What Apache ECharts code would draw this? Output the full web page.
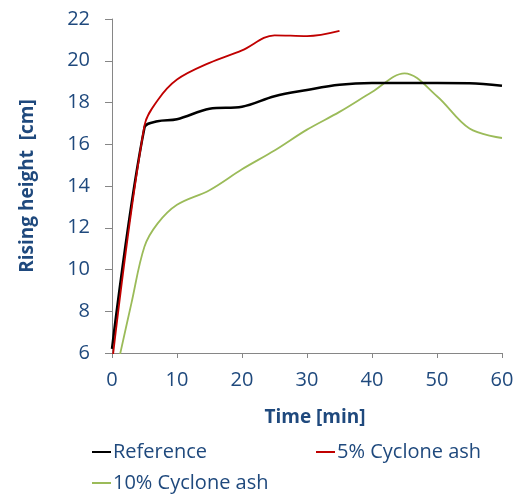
<!DOCTYPE html>
<html>
<head>
<meta charset="utf-8">
<script src="https://cdn.jsdelivr.net/npm/echarts@6/dist/echarts.min.js"></script>
<style>
  html, body { margin: 0; padding: 0; background: #fff; }
  #chart { width: 524px; height: 497px; }
</style>
</head>
<body>
<div id="chart"></div>
<script>
// [time (min), rising height (cm)]
const referenceData = [[0, 6.2], [5, 16.8], [7, 17.1], [10, 17.2], [15, 17.7], [20, 17.8], [25, 18.3], [30, 18.6], [35, 18.85], [40, 18.93], [45, 18.93], [50, 18.93], [55, 18.92], [60, 18.8]];
const ash5Data = [[0, 5.5], [5, 16.9], [7, 18.1], [10, 19.1], [15, 19.9], [20, 20.5], [25, 21.22], [30, 21.18], [35, 21.43]];
const ash10Data = [[1, 5.6], [3, 8.4], [5, 11.1], [7, 12.2], [10, 13.1], [15, 13.8], [20, 14.8], [25, 15.7], [30, 16.7], [35, 17.55], [40, 18.5], [45, 19.4], [50, 18.3], [55, 16.75], [60, 16.3]];
const seriesNames = ['Reference', '5% Cyclone ash', '10% Cyclone ash'];

const textBlue = '#1F497D';
const axisGrey = '#868686';
const font = 'Open Sans';

const chart = echarts.init(document.getElementById('chart'));

const legendBase = {
    orient: 'horizontal',
    padding: 0,
    icon: 'rect',
    itemWidth: 19,
    itemHeight: 2,
    textStyle: { color: textBlue, fontSize: 20, fontFamily: font, padding: [0, 0, 0, -3] }
};

chart.setOption({
    animation: false,
    grid: { left: 112, right: 22, top: 19, bottom: 144 },
    legend: [
        Object.assign({}, legendBase, { left: 92, top: 442, itemGap: 109, data: [seriesNames[0], seriesNames[1]] }),
        Object.assign({}, legendBase, { left: 92, top: 473, data: [seriesNames[2]] })
    ],
    xAxis: {
        type: 'value',
        min: 0,
        max: 60,
        interval: 10,
        name: 'Time [min]',
        nameLocation: 'middle',
        nameGap: 55,
        nameTextStyle: { color: textBlue, fontSize: 19, fontWeight: 'bold', fontFamily: font, padding: [0, 0, 0, 16] },
        axisLine: { lineStyle: { color: axisGrey, width: 1 } },
        axisTick: { show: true, length: 5, inside: false, lineStyle: { color: axisGrey } },
        axisLabel: { color: textBlue, fontSize: 20, fontFamily: font, margin: 17 },
        splitLine: { show: false }
    },
    yAxis: {
        type: 'value',
        min: 6,
        max: 22,
        interval: 2,
        name: 'Rising height  [cm]',
        nameLocation: 'middle',
        nameGap: 75,
        nameTextStyle: { color: textBlue, fontSize: 19, fontWeight: 'bold', fontFamily: font },
        axisLine: { show: true, lineStyle: { color: axisGrey, width: 1 } },
        axisTick: { show: true, length: 7, inside: false, lineStyle: { color: axisGrey } },
        axisLabel: { color: textBlue, fontSize: 20, fontFamily: font, margin: 22 },
        splitLine: { show: false }
    },
    series: [
        {
            name: seriesNames[0],
            type: 'line',
            data: referenceData,
            smooth: 0.35,
            showSymbol: false,
            color: '#000000',
            lineStyle: { color: '#000000', width: 2.5 },
            z: 3
        },
        {
            name: seriesNames[1],
            type: 'line',
            data: ash5Data,
            smooth: 0.35,
            showSymbol: false,
            color: '#C00000',
            lineStyle: { color: '#C00000', width: 1.8 },
            z: 4
        },
        {
            name: seriesNames[2],
            type: 'line',
            data: ash10Data,
            smooth: 0.35,
            showSymbol: false,
            color: '#9BBB59',
            lineStyle: { color: '#9BBB59', width: 1.8 },
            z: 2
        }
    ]
});
</script>
</body>
</html>
